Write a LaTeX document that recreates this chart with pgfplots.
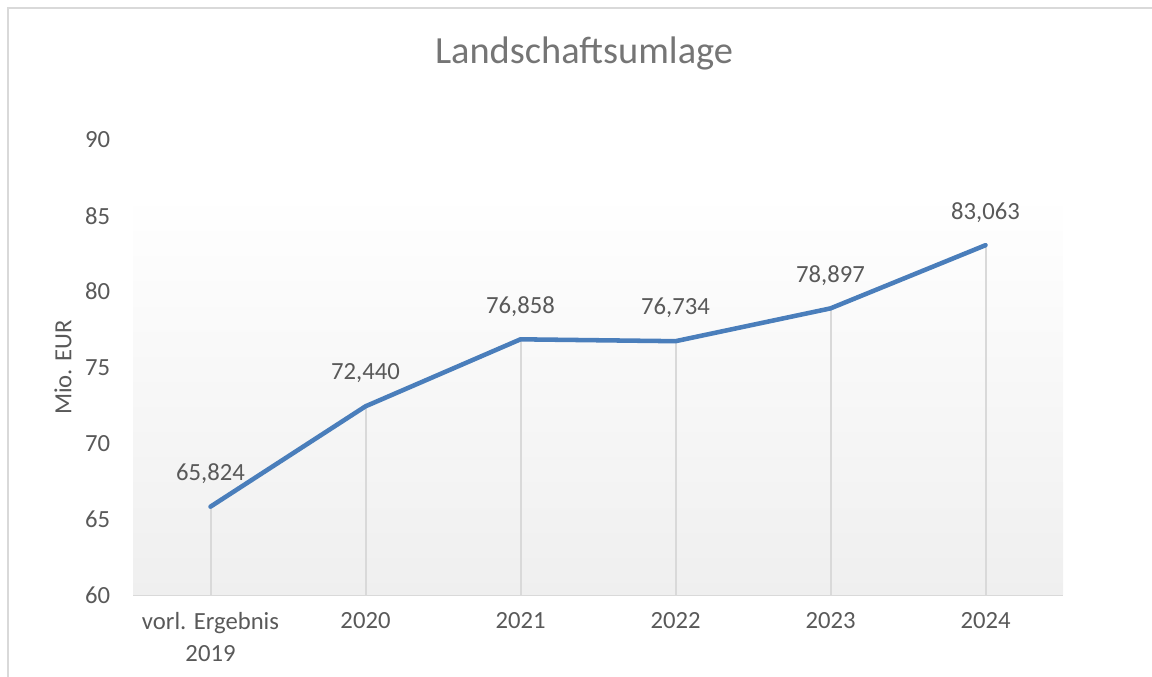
\documentclass[border=0pt]{standalone}
\usepackage{fontspec}
\setmainfont{Carlito}
\usepackage{pgfplots}
\pgfplotsset{compat=1.18}

\definecolor{linie}{HTML}{4A7EBB}
\definecolor{textgrau}{HTML}{595959}
\definecolor{titelgrau}{HTML}{757575}
\definecolor{rahmen}{HTML}{D9D9D9}
\definecolor{verlauf}{HTML}{EFEFEF}

\begin{document}
\begin{tikzpicture}
\useasboundingbox (0,0) rectangle (864pt,507.75pt);
% Rahmen (nur oben und links sichtbar)
\draw[rahmen, line width=1.5pt] (6pt,0) -- (6pt,501.75pt) -- (864pt,501.75pt);
\begin{axis}[
	at={(99.75pt,61.5pt)}, anchor=south west,
	scale only axis,
	width=697.5pt, height=341.25pt,
	xmin=-0.5, xmax=5.5,
	ymin=60, ymax=90,
	ytick={60,65,...,90},
	xtick=data,
	xticklabels={{vorl. Ergebnis\\2019},2020,2021,2022,2023,2024},
	axis x line*=bottom, axis y line*=left,
	x axis line style={rahmen, line width=1.5pt},
	y axis line style={draw=none},
	tick style={draw=none},
	clip=false,
	/pgf/number format/assume math mode=true,
	ticklabel style={font=\fontsize{18.5}{22}\selectfont, text=textgrau},
	yticklabel style={anchor=east, inner sep=0pt, xshift=-17pt},
	xticklabel style={align=center, anchor=north, inner sep=0pt, yshift=-13pt,
		font=\fontsize{18.5}{23.5}\selectfont},
	ylabel={Mio. EUR},
	every axis y label/.style={at={(axis description cs:-0.0753,0.5)}, anchor=center, rotate=90,
		font=\fontsize{18.5}{22}\selectfont, text=textgrau},
	title={Landschaftsumlage},
	title style={at={(axis description cs:0.485,1.172)}, anchor=center,
		font=\fontsize{28.8}{34}\selectfont, text=titelgrau},
]
% Hintergrund der Zeichenfläche
\fill[top color=white, bottom color=verlauf] (rel axis cs:0,0) rectangle (rel axis cs:1,0.8835);
% Lotlinien
\addplot[ycomb, rahmen, line width=1.5pt, mark=none] coordinates {
	(0,65.824) (1,72.440) (2,76.858) (3,76.734) (4,78.897) (5,83.063)};
% Linie mit Datenbeschriftung
\addplot[linie, line width=3.4pt, line join=round, line cap=round, mark=none,
	nodes near coords,
	every node near coord/.append style={anchor=center, yshift=24.75pt, text=textgrau,
		font=\fontsize{18.5}{22}\selectfont,
		/pgf/number format/fixed, /pgf/number format/fixed zerofill,
		/pgf/number format/precision=3, /pgf/number format/use comma,
		/pgf/number format/assume math mode=true},
] coordinates {
	(0,65.824) (1,72.440) (2,76.858) (3,76.734) (4,78.897) (5,83.063)};
\end{axis}
\end{tikzpicture}
\end{document}
